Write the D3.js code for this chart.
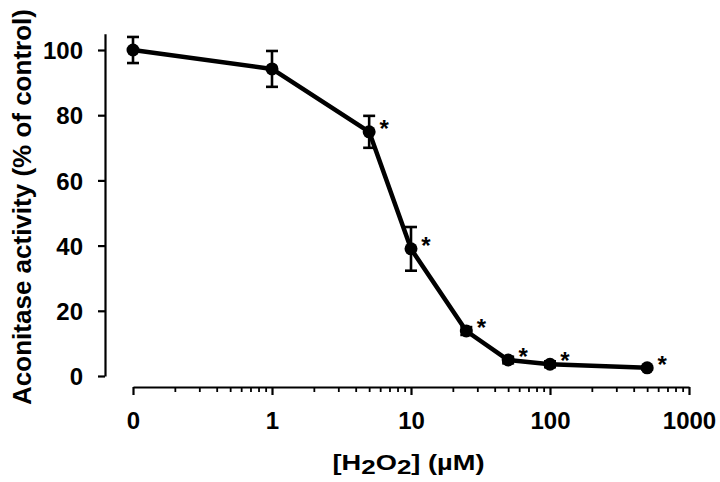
<!DOCTYPE html>
<html>
<head>
<meta charset="utf-8">
<script src="https://cdn.jsdelivr.net/npm/d3@7"></script>
<style>
  html, body { margin: 0; padding: 0; background: #fff; }
  svg { display: block; }
  text { font-family: "Liberation Sans", Arial, Helvetica, sans-serif; font-weight: bold; fill: #000; }
</style>
</head>
<body>
<svg id="chart" width="720" height="482"></svg>
<script>
// ---- data ----
const concentrations = [0, 1, 5, 10, 25, 50, 100, 500];       // µM H2O2
const activity      = [100, 94.2, 74.9, 39, 13.8, 4.9, 3.6, 2.5]; // % of control
const errors        = [4, 5.5, 4.9, 6.7, 1.2, 1.0, 0.9, 0.5];
const significant   = [false, false, true, true, true, true, true, true];
const xTickValues   = [0.1, 1, 10, 100, 1000];
const xTickLabels   = ["0", "1", "10", "100", "1000"];
const yTickValues   = [0, 20, 40, 60, 80, 100];
const zeroPlotAt    = 0.1; // "0" concentration drawn at the first decade start

const svg = d3.select("#chart");

const x = d3.scaleLog().domain([0.1, 1000]).range([133, 689]);
const y = d3.scaleLinear().domain([0, 105]).range([376, 33.7]);

const px = c => x(c === 0 ? zeroPlotAt : c);

const data = concentrations.map((c, i) => ({
  c, v: activity[i], e: errors[i], sig: significant[i]
}));

// ---- y axis ----
const yAxis = svg.append("g")
  .attr("transform", "translate(105,0)")
  .call(d3.axisLeft(y).tickValues(yTickValues).tickSize(7).tickSizeOuter(0).tickPadding(15).tickFormat(d3.format("d")));
yAxis.select(".domain").attr("stroke", "#000").attr("stroke-width", 2.2);
yAxis.selectAll(".tick line").attr("stroke", "#000").attr("stroke-width", 2.2);
yAxis.selectAll(".tick text").style("font-size", "24px").attr("dy", "0.36em");

// ---- x axis (minor ticks) ----
const minor = [];
[0.1, 1, 10, 100].forEach(d => { for (let k = 2; k <= 9; k++) minor.push(d * k); });
const xMinor = svg.append("g")
  .attr("transform", "translate(0,387)")
  .call(d3.axisBottom(x).tickValues(minor).tickSize(5).tickSizeOuter(0).tickFormat(""));
xMinor.select(".domain").attr("stroke", "#000").attr("stroke-width", 2.2);
xMinor.selectAll(".tick line").attr("stroke", "#000").attr("stroke-width", 1.8);

// ---- x axis (major ticks) ----
const xMajor = svg.append("g")
  .attr("transform", "translate(0,387)")
  .call(d3.axisBottom(x).tickValues(xTickValues).tickSize(8).tickSizeOuter(0).tickPadding(17)
    .tickFormat((d, i) => xTickLabels[i]));
xMajor.select(".domain").remove();
xMajor.selectAll(".tick line").attr("stroke", "#000").attr("stroke-width", 2.2);
xMajor.selectAll(".tick text").style("font-size", "24px");

// ---- error bars ----
const eb = svg.append("g").attr("stroke", "#000").attr("stroke-width", 2.6);
data.forEach(d => {
  const cx = px(d.c);
  eb.append("line").attr("x1", cx).attr("x2", cx).attr("y1", y(d.v + d.e)).attr("y2", y(d.v - d.e));
  eb.append("line").attr("x1", cx - 6).attr("x2", cx + 6).attr("y1", y(d.v + d.e)).attr("y2", y(d.v + d.e));
  eb.append("line").attr("x1", cx - 6).attr("x2", cx + 6).attr("y1", y(d.v - d.e)).attr("y2", y(d.v - d.e));
});

// ---- line ----
svg.append("path")
  .datum(data)
  .attr("fill", "none")
  .attr("stroke", "#000")
  .attr("stroke-width", 4.5)
  .attr("stroke-linejoin", "round")
  .attr("d", d3.line().x(d => px(d.c)).y(d => y(d.v)));

// ---- markers ----
svg.append("g").selectAll("circle")
  .data(data).join("circle")
  .attr("cx", d => px(d.c)).attr("cy", d => y(d.v)).attr("r", 6.5).attr("fill", "#000");

// ---- significance asterisks ----
svg.append("g").selectAll("text")
  .data(data.filter(d => d.sig)).join("text")
  .attr("x", d => px(d.c) + 15)
  .attr("y", d => y(d.v) + 5)
  .attr("text-anchor", "middle")
  .style("font-size", "24px")
  .text("*");

// ---- axis titles ----
const xt = svg.append("text")
  .attr("x", 408.5).attr("y", 470)
  .attr("text-anchor", "middle")
  .attr("textLength", 152)
  .attr("lengthAdjust", "spacingAndGlyphs")
  .style("font-size", "22px");
xt.append("tspan").text("[H");
xt.append("tspan").attr("dy", 4).style("font-size", "21px").text("2");
xt.append("tspan").attr("dy", -4).text("O");
xt.append("tspan").attr("dy", 4).style("font-size", "21px").text("2");
xt.append("tspan").attr("dy", -4).text("] (\u00b5M)");

svg.append("text")
  .attr("transform", "translate(31,207) rotate(-90)")
  .attr("text-anchor", "middle")
  .style("font-size", "26px")
  .text("Aconitase activity (% of control)");
</script>
</body>
</html>
